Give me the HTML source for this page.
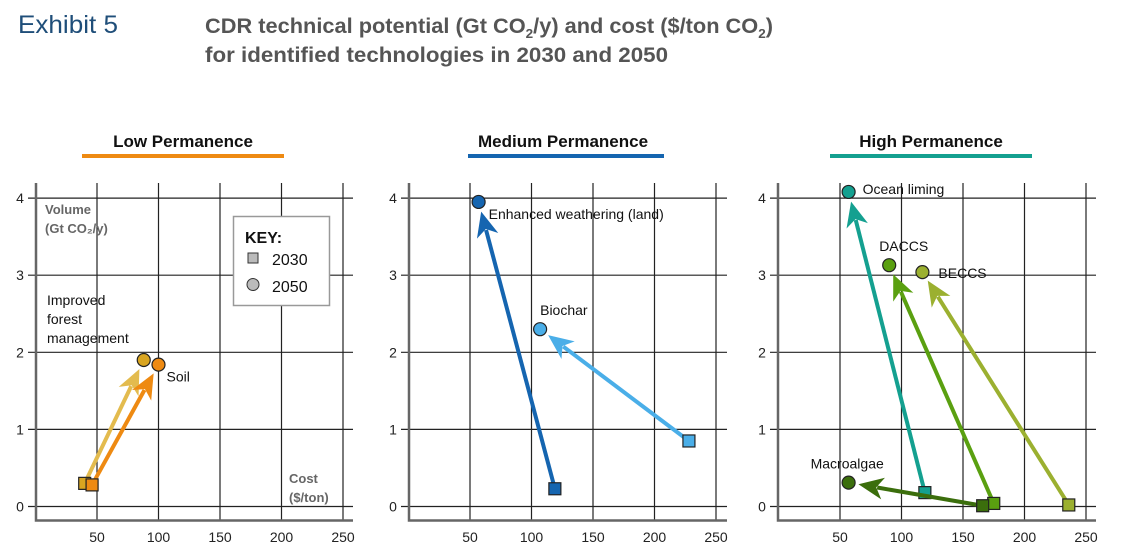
<!DOCTYPE html>
<html><head><meta charset="utf-8"><style>
html,body{margin:0;padding:0;background:#fff;width:1124px;height:556px;overflow:hidden}
svg{display:block;font-family:"Liberation Sans",sans-serif}
</style></head><body>
<svg id="c" width="1124" height="556" viewBox="0 0 1124 556">
<text x="18" y="33" font-size="25" fill="#1f4e79" textLength="100" lengthAdjust="spacingAndGlyphs">Exhibit 5</text>
<text x="205" y="33" font-size="21" font-weight="bold" fill="#555" textLength="568" lengthAdjust="spacingAndGlyphs">CDR technical potential (Gt CO<tspan font-size="13" dy="5">2</tspan><tspan dy="-5">/y) and cost ($/ton CO</tspan><tspan font-size="13" dy="5">2</tspan><tspan dy="-5">)</tspan></text>
<text x="205" y="62" font-size="21" font-weight="bold" fill="#555" textLength="463" lengthAdjust="spacingAndGlyphs">for identified technologies in 2030 and 2050</text>
<g id="panels"></g>
</svg>
<script>
const panelTitles = ["Low Permanence","Medium Permanence","High Permanence"];
const xTicks = [50,100,150,200,250];
const yTicks = [0,1,2,3,4];
const seriesNames = ["Improved forest management","Soil","Enhanced weathering (land)","Biochar","Ocean liming","DACCS","BECCS","Macroalgae"];
const seriesPanel = [0,0,1,1,2,2,2,2];
const cost2030 = [40,46,119,228,119,175,236,166];
const vol2030 = [0.30,0.28,0.23,0.85,0.18,0.04,0.02,0.01];
const cost2050 = [88,100,57,107,57,90,117,57];
const vol2050 = [1.90,1.84,3.95,2.30,4.08,3.13,3.04,0.31];

const NS="http://www.w3.org/2000/svg";
const root=document.getElementById('panels');
const P=[{x0:35.5,left:36,right:353,tc:'#ee8a12',ul:[82,284],tx:183},
         {x0:408.5,left:409,right:727,tc:'#1565b0',ul:[468,664],tx:563},
         {x0:778.5,left:778,right:1096,tc:'#14a090',ul:[830,1032],tx:931}];
const markerCol=['#d9a520','#ee8a12','#1565b0','#4aaee8','#14a090','#5aa010','#9bb030','#3b6e0c'];
const arrowCol=['#e3bb4e','#ee8a12','#1565b0','#4aaee8','#14a090','#5aa010','#9bb030','#3b6e0c'];
function xs(p,v){return P[p].x0+v*61.5/50;}
function ys(v){return 506.5-v*77.1;}
function el(t,a,parent){const e=document.createElementNS(NS,t);for(const k in a)e.setAttribute(k,a[k]);(parent||root).appendChild(e);return e;}

for(let p=0;p<3;p++){
  const g=el('g',{});
  
  
  const t=el('text',{x:P[p].tx,y:147,'font-size':17,'font-weight':'bold','text-anchor':'middle',fill:'#111'},g);
  t.textContent=panelTitles[p];
  
  
  const u=el('rect',{x:P[p].ul[0],y:154,width:P[p].ul[1]-P[p].ul[0],height:4,fill:P[p].tc},g);
  
  
  for(const v of xTicks){
    const gl=el('line',{x1:xs(p,v),x2:xs(p,v),y1:183,y2:520,stroke:'#222','stroke-width':1.2},g);
    
    
    const tl=el('text',{x:xs(p,v),y:542,'font-size':14,'text-anchor':'middle',fill:'#222'},g);
    tl.textContent=v;
    
    
  }
  for(const v of yTicks){
    const gl=el('line',{x1:P[p].left-8,x2:P[p].right,y1:ys(v),y2:ys(v),stroke:'#222','stroke-width':1.2},g);
    
    
    const tl=el('text',{x:P[p].left-16,y:ys(v)+5,'font-size':14,'text-anchor':'middle',fill:'#222'},g);
    tl.textContent=v;
    
    
  }
  const ax=el('polyline',{points:`${P[p].left},183 ${P[p].left},520.5 ${P[p].right},520.5`,fill:'none',stroke:'#666','stroke-width':2.5},g);
  
  
}

for(let i=0;i<seriesNames.length;i++){
  const p=seriesPanel[i];
  const x1=xs(p,cost2030[i]),y1=ys(vol2030[i]),x2=xs(p,cost2050[i]),y2=ys(vol2050[i]);
  const dx=x2-x1,dy=y2-y1,L=Math.hypot(dx,dy),ux=dx/L,uy=dy/L;
  const tipX=x2-ux*10,tipY=y2-uy*10;
  const bx=tipX-ux*25,by=tipY-uy*25;
  const g=el('g',{});
  
  
  el('line',{x1:x1,y1:y1,x2:bx+ux*6,y2:by+uy*6,stroke:arrowCol[i],'stroke-width':4},g);
  el('polygon',{points:`${tipX},${tipY} ${bx-uy*11},${by+ux*11} ${bx+ux*7},${by+uy*7} ${bx+uy*11},${by-ux*11}`,fill:arrowCol[i]},g);
  const sq=el('rect',{x:x1-6,y:y1-6,width:12,height:12,fill:markerCol[i],stroke:'#222','stroke-width':1.2});
  
  
  const c=el('circle',{cx:x2,cy:y2,r:6.5,fill:markerCol[i],stroke:'#222','stroke-width':1.2});
  
  
}
const labelOff=[[-110,-62],[8,17],[10,17],[0,-14],[14,2],[-10,-14],[16,6],[-38,-14]];
for(let i=0;i<seriesNames.length;i++){
  const p=seriesPanel[i];
  const x=xs(p,cost2050[i])+labelOff[i][0],y=ys(vol2050[i])+labelOff[i][1];
  if(i===0){
    const lines=["Improved","forest","management"];
    lines.forEach((s,k)=>{const t=el('text',{x:47,y:305+k*19,'font-size':14,fill:'#111'});t.textContent=s;
      
      });
    continue;
  }
  const t=el('text',{x:x,y:y,'font-size':14,fill:'#111'});
  t.textContent=seriesNames[i];
  
  
}
const extra=[["Volume",45,214],["(Gt CO₂/y)",45,233],["Cost",289,483],["($/ton)",289,502]];
extra.forEach(e=>{const t=el('text',{x:e[1],y:e[2],'font-size':13,'font-weight':'bold',fill:'#666'});t.textContent=e[0];
  
  });
const key=el('g',{});


el('rect',{x:233.5,y:216.5,width:96,height:89,fill:'#fff',stroke:'#999','stroke-width':1.5},key);
const kt=el('text',{x:245,y:243,'font-size':16,'font-weight':'bold',fill:'#111'},key);kt.textContent='KEY:';
el('rect',{x:248,y:253,width:10,height:10,fill:'#bbb',stroke:'#333','stroke-width':1},key);
const k1=el('text',{x:272,y:265,'font-size':16,fill:'#111'},key);k1.textContent='2030';


el('circle',{cx:253,cy:284.5,r:6,fill:'#bbb',stroke:'#333','stroke-width':1},key);
const k2=el('text',{x:272,y:292,'font-size':16,fill:'#111'},key);k2.textContent='2050';


</script>
</body></html>
